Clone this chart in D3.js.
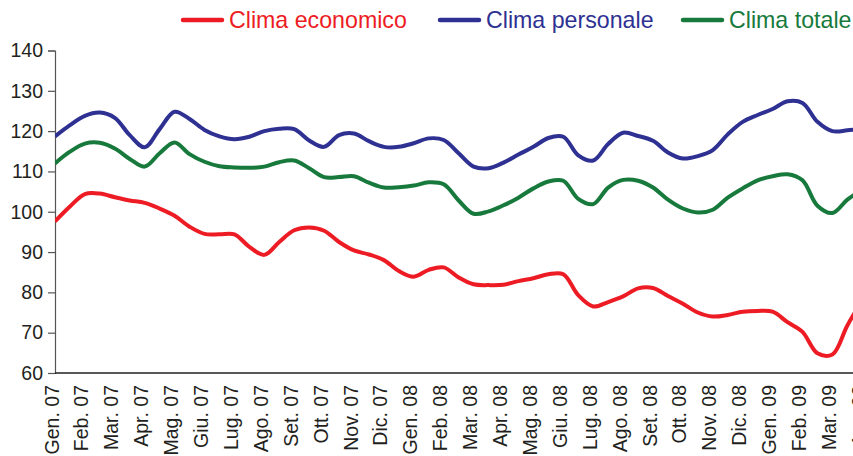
<!DOCTYPE html>
<html>
<head>
<meta charset="utf-8">
<script src="https://cdn.jsdelivr.net/npm/d3@7"></script>
<style>
  body { margin: 0; background: #fff; }
  svg { display: block; font-family: 'Liberation Sans', Arial, sans-serif; }
</style>
</head>
<body>
<div id="chart"></div>
<script>
// month labels (category axis)
const months = ['Gen. 07', 'Feb. 07', 'Mar. 07', 'Apr. 07', 'Mag. 07', 'Giu. 07', 'Lug. 07', 'Ago. 07',
  'Set. 07', 'Ott. 07', 'Nov. 07', 'Dic. 07', 'Gen. 08', 'Feb. 08', 'Mar. 08', 'Apr. 08', 'Mag. 08',
  'Giu. 08', 'Lug. 08', 'Ago. 08', 'Set. 08', 'Ott. 08', 'Nov. 08', 'Dic. 08', 'Gen. 09', 'Feb. 09',
  'Mar. 09', 'Apr. 09'];

const yTicks = [60, 70, 80, 90, 100, 110, 120, 130, 140];

// values read every half month
const climaEconomico = [97.6, 101.3, 104.4, 104.5, 103.6, 102.8, 102.2, 100.8, 99, 96.3, 94.5, 94.4, 94.4, 91.3,
  89.3, 92.5, 95.4, 96.1, 95.3, 92.5, 90.4, 89.4, 88, 85.3, 83.9, 85.6, 86.2, 83.7, 82, 81.8, 81.9, 82.8,
  83.5, 84.5, 84.5, 79.3, 76.5, 77.6, 79, 81, 81.1, 79.1, 77.2, 75, 74, 74.4, 75.2, 75.4, 75.2, 72.6, 70.2,
  64.9, 64.6, 71.8, 78];
const climaPersonale = [118.7, 121.5, 123.8, 124.6, 123.3, 119, 116, 120.5, 124.8, 123, 120.3, 118.7, 118, 118.6,
  120, 120.6, 120.5, 117.7, 116.1, 119, 119.4, 117.5, 116.1, 116.1, 117, 118.2, 117.8, 114.5, 111.2, 110.8,
  112.2, 114.2, 116.1, 118.3, 118.6, 114, 112.7, 116.8, 119.6, 118.8, 117.6, 114.7, 113.2, 113.8, 115.3,
  119.2, 122.3, 124, 125.5, 127.4, 127, 122.3, 120, 120.2, 120.6];
const climaTotale = [112, 114.9, 116.9, 117.1, 115.7, 113.1, 111.2, 114.5, 117.2, 114.3, 112.4, 111.3, 111, 110.9,
  111.2, 112.3, 112.7, 110.8, 108.6, 108.6, 108.8, 107.2, 106, 106.1, 106.5, 107.3, 106.8, 102.8, 99.5, 100.1,
  101.6, 103.5, 105.8, 107.5, 107.7, 103.2, 101.9, 106, 107.9, 107.7, 106, 103, 100.8, 99.8, 100.5, 103.5,
  105.8, 107.8, 108.8, 109.3, 107.8, 101.5, 99.7, 103, 105.5];

const seriesNames = ['Clima economico', 'Clima personale', 'Clima totale'];
const seriesColors = ['#ed1c24', '#2e3192', '#177a3c'];
const seriesValues = [climaEconomico, climaPersonale, climaTotale];

const width = 853, height = 456;
const x0 = 55, x1 = x0 + 27 * 29.9;
const yTop = 50.5, yBottom = 373;

const svg = d3.select('#chart').append('svg')
  .attr('width', width)
  .attr('height', height);

const x = d3.scaleLinear().domain([0, months.length - 1]).range([x0, x1]);
const y = d3.scaleLinear().domain([60, 140]).range([yBottom, yTop]);

// y axis
const yAxis = svg.append('g')
  .attr('transform', `translate(${x0},0)`)
  .call(d3.axisLeft(y).tickValues(yTicks).tickSize(7).tickPadding(5));
yAxis.select('.domain').attr('stroke', '#555').attr('stroke-width', 1.2);
yAxis.selectAll('.tick line').attr('stroke', '#555').attr('stroke-width', 1.2);
yAxis.selectAll('.tick text')
  .attr('fill', '#231f20')
  .style('font-size', '19.5px')
  .style('font-family', "'Liberation Sans', Arial, sans-serif");

// x axis (no ticks, rotated labels)
const xAxis = svg.append('g')
  .attr('transform', `translate(0,${yBottom})`)
  .call(d3.axisBottom(x).tickValues(d3.range(months.length)).tickSize(0).tickFormat(i => months[i]));
xAxis.select('.domain').attr('stroke', '#231f20').attr('stroke-width', 1.5)
  .attr('d', `M${x0},0H${width}`);
xAxis.selectAll('.tick text')
  .attr('fill', '#231f20')
  .attr('text-anchor', 'end')
  .attr('transform', 'rotate(-90)')
  .attr('x', -12)
  .attr('y', 0)
  .attr('dy', '3')
  .style('font-size', '19.5px')
  .style('font-family', "'Liberation Sans', Arial, sans-serif");

// lines
const line = d3.line()
  .x((d, i) => x(i / 2))
  .y(d => y(d))
  .curve(d3.curveCatmullRom.alpha(0.5));

svg.append('defs').append('clipPath').attr('id', 'plot')
  .append('rect').attr('x', x0).attr('y', 0).attr('width', width - x0).attr('height', height);

svg.append('g').attr('clip-path', 'url(#plot)')
  .selectAll('path')
  .data(seriesValues)
  .enter()
  .append('path')
  .attr('d', d => line(d))
  .attr('fill', 'none')
  .attr('stroke', (d, i) => seriesColors[i])
  .attr('stroke-width', 4)
  .attr('stroke-linejoin', 'round');

// legend
const legendX = [183, 440, 683];
const legend = svg.selectAll('.legend')
  .data(seriesNames)
  .enter()
  .append('g')
  .attr('class', 'legend')
  .attr('transform', (d, i) => `translate(${legendX[i]},20)`);

legend.append('line')
  .attr('x1', 0).attr('x2', 39)
  .attr('y1', 0).attr('y2', 0)
  .attr('stroke', (d, i) => seriesColors[i])
  .attr('stroke-width', 4.5)
  .attr('stroke-linecap', 'round');

legend.append('text')
  .attr('x', 46)
  .attr('y', 8)
  .attr('fill', (d, i) => seriesColors[i])
  .style('font-size', '23.2px')
  .text(d => d);
</script>
</body>
</html>
